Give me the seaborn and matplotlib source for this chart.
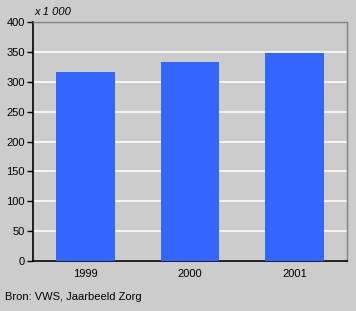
import matplotlib
matplotlib.use("Agg")
import matplotlib.pyplot as plt
import seaborn as sns
import pandas as pd

years = ["1999", "2000", "2001"]
values = [316, 333, 348]
yticks = [0, 50, 100, 150, 200, 250, 300, 350, 400]

sns.set_style("white")
plt.rcParams['font.family'] = ['Liberation Sans', 'DejaVu Sans']
plt.rcParams['text.color'] = 'black'
plt.rcParams['xtick.color'] = 'black'
plt.rcParams['ytick.color'] = 'black'

df = pd.DataFrame({"year": years, "value": values})

fig = plt.figure(figsize=(3.56, 3.11), dpi=100, facecolor="#cccccc")
ax = fig.add_axes([33/356, 50/311, 314/356, 239/311])
ax.set_facecolor("#cccccc")
sns.barplot(data=df, x="year", y="value", color="#3366ff", saturation=1,
            width=0.56, ax=ax, zorder=3, edgecolor="none", linewidth=0)
ax.set_ylim(0, 400)
ax.set_xlim(-0.5, 2.5)
ax.set_yticks(yticks)
ax.yaxis.grid(True, color="white", linewidth=1.2, zorder=0)
ax.set_axisbelow(True)
ax.set_xlabel("")
ax.set_ylabel("")
ax.tick_params(axis="y", left=True, length=4, width=1, color="black",
               labelcolor="black", labelsize=8, pad=2)
ax.tick_params(axis="x", bottom=False, length=0, labelcolor="black", labelsize=8, pad=6)
for s in ["left", "bottom"]:
    ax.spines[s].set_color("black")
    ax.spines[s].set_linewidth(1.2)
for s in ["top", "right"]:
    ax.spines[s].set_visible(True)
    ax.spines[s].set_color("#808080")
    ax.spines[s].set_linewidth(1)

fig.text(34/356, 1 - 12/311, "x 1 000", fontsize=8, style="italic", va="center", ha="left", color="black")
fig.text(5/356, 1 - 297/311, "Bron: VWS, Jaarbeeld Zorg", fontsize=8, va="center", ha="left", color="black")

fig.savefig("out.png", dpi=100, facecolor="#cccccc")
